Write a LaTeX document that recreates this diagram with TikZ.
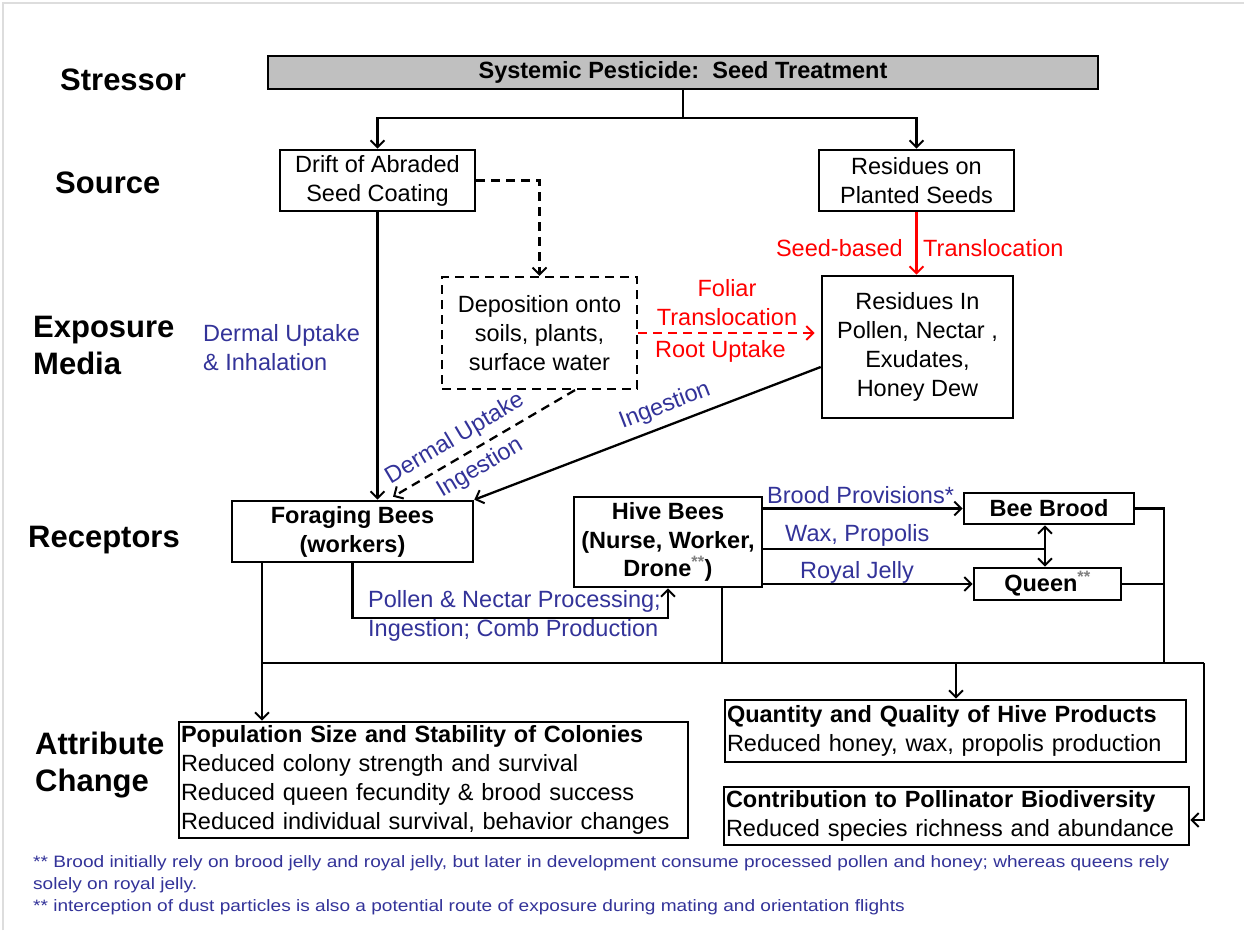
\documentclass[tikz,border=0pt]{standalone}
\usepackage{fontspec}
\usepackage{graphicx}
\setmainfont{Liberation Sans}
\usetikzlibrary{arrows.meta,calc}

\definecolor{labblue}{RGB}{51,51,153}
\definecolor{labred}{RGB}{255,0,0}
\definecolor{framegray}{RGB}{221,221,221}
\definecolor{stressfill}{RGB}{192,192,192}

\newcommand{\fsz}[2]{\fontsize{#1}{#2}\selectfont}
\newcommand{\stars}{\textsuperscript{\textcolor{gray}{**}}}
\newcommand{\wide}[1]{\scalebox{1.156}[1]{#1}}

\begin{document}
\begin{tikzpicture}[x=1pt,y=-1pt,
  box/.style={draw=black, line width=2.6pt, inner sep=0pt, align=center,
              font=\fsz{23.5}{29}},
  bbox/.style={box, font=\fsz{23.5}{29}\bfseries},
  dbox/.style={box, dash pattern=on 9pt off 6pt, line width=2.2pt},
  lbox/.style={draw=black, line width=2.6pt, inner xsep=2pt, inner ysep=0pt,
               align=left, font=\fsz{23.5}{29}},
  stage/.style={anchor=west, align=left, inner sep=0pt, font=\fsz{31}{37}\bfseries},
  conn/.style={line width=2.3pt},
  arr/.style={-{Straight Barb[length=7pt,width=14pt,line width=2pt]}},
  arrtwo/.style={{Straight Barb[length=7pt,width=14pt,line width=2pt]}-{Straight Barb[length=7pt,width=14pt,line width=2pt]}},
  dsh/.style={dash pattern=on 9pt off 6pt},
  blab/.style={text=labblue, inner sep=0pt, font=\fsz{23.5}{29}},
  rlab/.style={text=labred, inner sep=0pt, font=\fsz{23.5}{29}},
  note/.style={text=labblue, anchor=west, inner sep=0pt, font=\fsz{16.5}{20}}
]
\useasboundingbox (0,0) rectangle (1244,930);
\fill[white] (0,0) rectangle (1244,930);
\draw[framegray, line width=2.5pt] (3,930) -- (3,3) -- (1244,3);

% stage labels
\node[stage] (lstress) at (60,80) {Stressor};
\node[stage] (lsource) at (55,183) {Source};
\node[stage] (lmedia) at (33,345) {Exposure\\Media};
\node[stage] (lrecept) at (28,540) {Receptors};
\node[stage] (lattr) at (35,765) {Attribute\\Change};

% boxes
\node[bbox, fill=stressfill, minimum width=830pt, minimum height=33pt, font=\fsz{23.5}{25}\bfseries]
  (stressor) at (683,72.5) {Systemic Pesticide:\ \ Seed Treatment};
\node[box, minimum width=195pt, minimum height=61pt] (drift) at (377.5,180.5)
  {Drift of Abraded\\Seed Coating};
\node[box, minimum width=195pt, minimum height=61pt] (seeds) at (916.5,180.5)
  {Residues on\\Planted Seeds};
\node[dbox, minimum width=195pt, minimum height=112pt] (dep) at (539.5,333)
  {Deposition onto\\soils, plants,\\surface water};
\node[box, minimum width=191pt, minimum height=142pt] (resin) at (917.5,347)
  {Residues In\\Pollen, Nectar ,\\Exudates,\\Honey Dew};
\node[bbox, minimum width=241pt, minimum height=61pt] (foraging) at (352.5,531.5)
  {Foraging Bees\\(workers)};
\node[bbox, minimum width=188pt, minimum height=90pt, font=\fsz{23.5}{28.5}\bfseries] (hive) at (668,542)
  {Hive Bees\\(Nurse, Worker,\\Drone\stars)};
\node[bbox, minimum width=170pt, minimum height=31pt] (brood) at (1049,508.5) {Bee Brood};
\node[bbox, minimum width=147pt, minimum height=32pt] (queen) at (1047.5,584) {Queen\stars};
\node[lbox, text width=505pt, minimum height=116pt] (pop) at (433.5,780)
  {\textbf{Population Size and Stability of Colonies}\\
   Reduced colony strength and survival\\
   Reduced queen fecundity \& brood success\\
   Reduced individual survival, behavior changes};
\node[lbox, text width=457pt, minimum height=62pt] (quant) at (955.5,731)
  {\textbf{Quantity and Quality of Hive Products}\\
   Reduced honey, wax, propolis production};
\node[lbox, text width=461pt, minimum height=58pt] (contrib) at (956.5,816)
  {\textbf{Contribution to Pollinator Biodiversity}\\
   Reduced species richness and abundance};

% stressor to sources
\coordinate (split) at (683,118);
\draw[conn] (stressor.south) -- (split);
\draw[conn,arr] (split) -| (drift.north);
\draw[conn,arr] (split) -| (seeds.north);

% sources to exposure media
\draw[conn,dsh,arr] (drift.east) -| (dep.north);
\draw[conn,labred,arr] (seeds.south) -- (seeds.south |- resin.north);
\node[rlab, anchor=east] (sbl) at (903,248) {Seed-based};
\node[rlab, anchor=west] (sbr) at (923,248) {Translocation};
\draw[conn,labred,dsh,arr,shorten >=6pt] (dep.east) -- (dep.east -| resin.west);
\node[rlab] (fol) at (727,288) {Foliar};
\node[rlab] (ftr) at (727,317) {Translocation};
\node[rlab, anchor=west] (rup) at (655,351) {Root Uptake};

% exposure to foraging bees
\draw[conn,arr] (drift.south) -- (drift.south |- foraging.north);
\node[blab, anchor=west, align=left] (dermal) at (203,347.5) {Dermal Uptake\\\& Inhalation};
\coordinate (depout) at ($(dep.south)+(35.5,0)$);
\coordinate (forin) at ($(foraging.north)+(40.5,-3)$);
\draw[conn,dsh,arr] (depout) -- (forin);
\node[blab, rotate=30.7] (dermal2) at (455,439) {Dermal Uptake};
\node[blab, rotate=30.7] (ing1) at (480,468) {Ingestion};
\coordinate (resout) at ($(resin.west)+(0,20)$);
\draw[conn,arr] (resout) -- (foraging.north east);
\node[blab, rotate=21.1] (ing2) at (665,406) {Ingestion};

% foraging bees to hive bees
\draw[conn,arr] (foraging.south) -- ++(0,55) -| (hive.south);
\node[blab, anchor=west] (pnp) at (368,601) {Pollen \& Nectar Processing;};
\node[blab, anchor=west] (icp) at (368,630) {Ingestion; Comb Production};

% hive bees to brood and queen
\draw[conn,arr] (hive.east |- brood.west) -- (brood.west);
\node[blab, anchor=west] (bprov) at (767,495) {Brood Provisions*};
\coordinate (waxend) at (1045,549);
\draw[conn] (hive.east |- waxend) -- (waxend);
\node[blab, anchor=west] (wax) at (785,535) {Wax, Propolis};
\draw[conn,arrtwo] (waxend |- brood.south) -- (waxend |- queen.north);
\draw[conn,arr] (hive.east |- queen.west) -- (queen.west);
\node[blab, anchor=west] (rj) at (800,572) {Royal Jelly};

% receptors to attribute change
\coordinate (busL) at (262,663);
\coordinate (busR) at (1204,663);
\coordinate (rjoin) at (1164,663);
\coordinate (hdrop) at (722,663);
\coordinate (qdrop) at (956,663);
\draw[conn] (busL) -- (busR);
\draw[conn] (brood.east) -| (rjoin);
\draw[conn] (queen.east) -- (queen.east -| rjoin);
\draw[conn] (hdrop |- hive.south) -- (hdrop);
\draw[conn,arr] (busL |- foraging.south) -- (busL |- pop.north);
\draw[conn,arr] (qdrop) -- (qdrop |- quant.north);
\draw[conn,arr] (busR) |- ($(contrib.east)+(0,4)$);

% footnotes
\node[note] (n1) at (33,863) {\wide{** Brood initially rely on brood jelly and royal jelly, but later in development consume processed pollen and honey; whereas queens rely}};
\node[note] (n2) at (33,885) {\wide{solely on royal jelly.}};
\node[note] (n3) at (33,907) {\wide{** interception of dust particles is also a potential route of exposure during mating and orientation flights}};
\end{tikzpicture}
\end{document}
